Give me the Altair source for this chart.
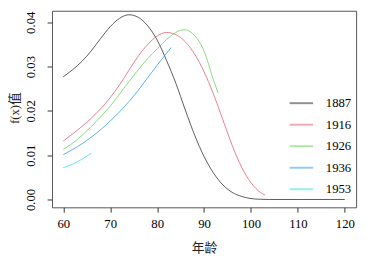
import altair as alt
import pandas as pd

years = ["1887", "1916", "1926", "1936", "1953"]
colors = ["#222222", "#DF536B", "#61D04F", "#2297E6", "#28E2E5"]

ages_1887 = [60, 62, 64, 66, 68, 70, 72, 74, 76, 78, 80, 82, 84, 86, 88, 90, 92, 94, 96, 98, 100, 102, 104, 110, 120]
vals_1887 = [0.0277, 0.0293, 0.0312, 0.0336, 0.0364, 0.0390, 0.0409, 0.0417, 0.0411, 0.0392, 0.0360, 0.0314,
             0.0262, 0.0202, 0.0145, 0.0097, 0.0060, 0.0033, 0.0016, 0.0007, 0.0002, 0.00005, 0.0, 0.0, 0.0]

ages_1916 = [60, 62, 64, 66, 68, 70, 72, 74, 76, 78, 80, 82, 84, 86, 88, 90, 92, 94, 96, 98, 100, 102, 103]
vals_1916 = [0.0132, 0.0148, 0.0165, 0.0184, 0.0205, 0.0230, 0.0259, 0.0292, 0.0324, 0.0350, 0.0369, 0.0377,
             0.0372, 0.0356, 0.0328, 0.0288, 0.0238, 0.0180, 0.0122, 0.0073, 0.0038, 0.0016, 0.0010]

ages_1926 = [60, 62, 64, 66, 68, 70, 72, 74, 76, 78, 80, 82, 84, 85, 86, 87, 88, 90, 92, 93]
vals_1926 = [0.0113, 0.0127, 0.0145, 0.0165, 0.0187, 0.0211, 0.0238, 0.0266, 0.0293, 0.0318, 0.0340, 0.0361,
             0.0377, 0.0382, 0.0383, 0.0379, 0.0370, 0.0335, 0.0270, 0.0240]

ages_1936 = [60, 62, 64, 66, 68, 70, 72, 74, 76, 78, 80, 82, 83]
vals_1936 = [0.0101, 0.0113, 0.0126, 0.0141, 0.0158, 0.0177, 0.0198, 0.0221, 0.0247, 0.0275, 0.0303, 0.0330, 0.0343]

ages_1953 = [60, 62, 64, 66]
vals_1953 = [0.0072, 0.0080, 0.0091, 0.0105]

x_ticks = [60, 70, 80, 90, 100, 110, 120]
y_ticks = [0.00, 0.01, 0.02, 0.03, 0.04]

series = [
    ("1887", ages_1887, vals_1887),
    ("1916", ages_1916, vals_1916),
    ("1926", ages_1926, vals_1926),
    ("1936", ages_1936, vals_1936),
    ("1953", ages_1953, vals_1953),
]
rows = []
for yr, ages, vals in series:
    for a, v in zip(ages, vals):
        rows.append({"year": yr, "age": a, "value": v})
df = pd.DataFrame(rows)

font = "Times New Roman, Liberation Serif, DejaVu Serif, Noto Sans CJK SC, serif"

chart = alt.Chart(df).mark_line(strokeWidth=1, opacity=0.75, interpolate="monotone").encode(
    x=alt.X("age:Q",
            scale=alt.Scale(domain=[57.6, 122.4], nice=False, zero=False),
            axis=alt.Axis(values=x_ticks, title="年龄", grid=False, domain=False,
                          tickColor="#333333", tickSize=5, labelFont=font, labelFontSize=13,
                          labelColor="black", labelPadding=6, titleFont=font, titleFontSize=13,
                          titleFontWeight="normal", titleColor="#222222",
                          titleBaseline="middle", titleY=41)),
    y=alt.Y("value:Q",
            scale=alt.Scale(domain=[-0.00177, 0.0426], nice=False, zero=False),
            axis=alt.Axis(values=y_ticks, format=".2f", title="f(x)值", grid=False, domain=False,
                          tickColor="#333333", tickSize=5, labelFont=font, labelFontSize=13,
                          labelColor="black", labelAngle=270, labelAlign="center",
                          labelBaseline="bottom", labelPadding=10,
                          titleFont=font, titleFontSize=13, titleFontWeight="normal",
                          titleColor="#222222", titleAlign="center", titleBaseline="middle",
                          titleX=-38, titleY=99)),
    color=alt.Color("year:N",
                    scale=alt.Scale(domain=years, range=colors),
                    legend=alt.Legend(title=None, orient="none", legendX=242, legendY=88,
                                      symbolType="stroke", symbolSize=576, symbolStrokeWidth=2,
                                      symbolOpacity=0.5, labelFont=font, labelFontSize=13,
                                      labelColor="black", labelOffset=12, rowPadding=8,
                                      clipHeight=13)),
).properties(
    width=311, height=201,
    autosize=alt.AutoSizeParams(type="none"),
    padding={"left": 45, "top": 0, "right": 6, "bottom": 50},
).configure_view(stroke="#555555", strokeWidth=1)

chart.save("out.html", embed_options={"renderer": "svg", "actions": False})
